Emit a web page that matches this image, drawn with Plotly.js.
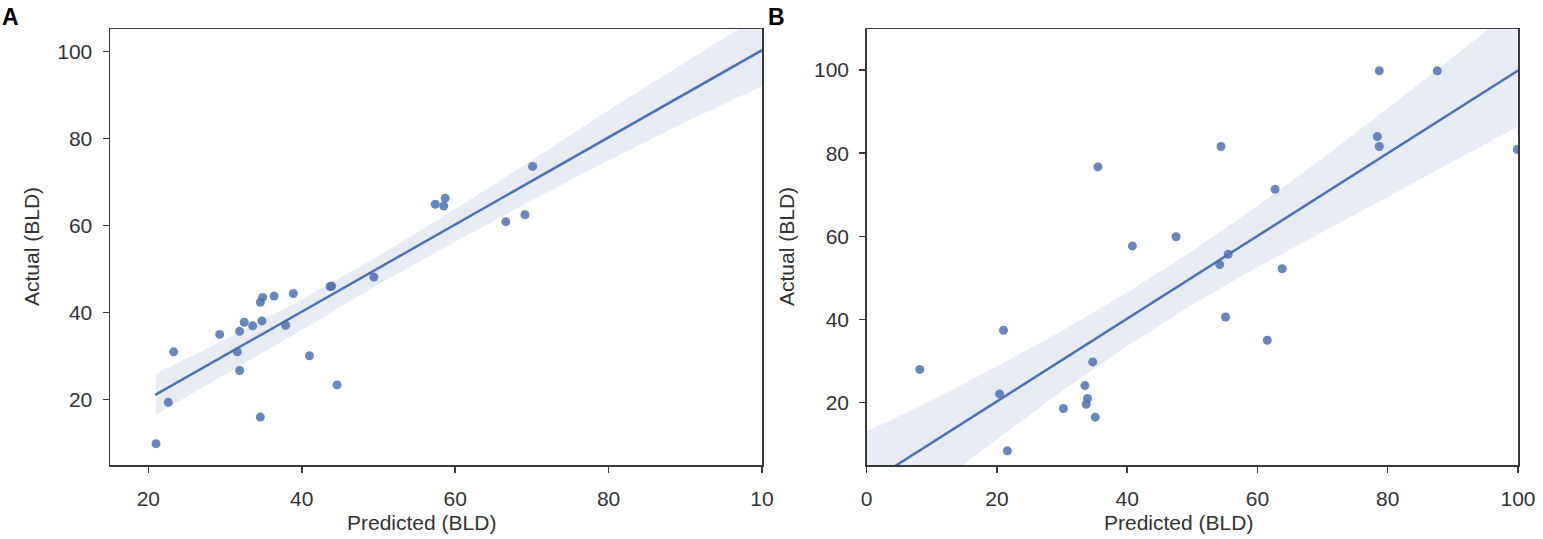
<!DOCTYPE html>
<html>
<head>
<meta charset="utf-8">
<script src="https://cdn.plot.ly/plotly-3.0.1.min.js"></script>
<style>
  html, body { margin: 0; padding: 0; background: #fff; }
  #chart { width: 1543px; height: 539px; }
</style>
</head>
<body>
<div id="chart"></div>
<script>
// panel A: predicted vs actual
var predA = [21.0, 22.6, 23.3, 29.3, 31.6, 31.9, 31.9, 32.5, 33.6, 34.8, 34.6, 34.9, 36.4, 38.9,
             37.9, 34.6, 41.0, 44.6, 43.7, 43.9, 49.4, 57.4, 58.7, 58.5, 70.1, 66.6, 69.1];
var actA  = [9.9, 19.4, 31.0, 35.0, 31.0, 26.7, 35.7, 37.8, 37.0, 38.1, 42.4, 43.5, 43.8, 44.4,
             37.1, 16.0, 30.1, 23.4, 46.0, 46.1, 48.2, 64.9, 66.3, 64.5, 73.6, 60.9, 62.5];
// fitted line and confidence band A
var fitXA = [20.9, 100];
var fitYA = [21.1, 100.3];
var bandXA = [21, 30, 40, 50, 60, 70, 80, 90, 100];
var bandUpA = [26.0, 33.8, 43.0, 53.0, 63.8, 75.0, 86.5, 97.5, 108.5];
var bandLoA = [16.6, 25.8, 36.0, 46.5, 56.3, 65.8, 75.0, 83.8, 92.0];

// panel B
var predB = [8.15, 20.4, 21.0, 21.6, 30.2, 33.5, 33.9, 33.7, 34.7, 35.1, 35.5, 40.8, 47.5,
             54.2, 55.5, 55.1, 61.5, 62.7, 54.4, 78.7, 87.6, 78.4, 78.7, 99.9, 63.8];
var actB  = [28.0, 22.1, 37.4, 8.4, 18.6, 24.1, 21.0, 19.6, 29.8, 16.5, 76.7, 57.7, 59.9,
             53.2, 55.7, 40.6, 35.0, 71.3, 81.6, 99.8, 99.8, 84.0, 81.6, 80.9, 52.2];
var fitXB = [0, 100];
var fitYB = [0.4, 99.9];
var bandXB = [0, 10, 20, 30, 40, 50, 60, 70, 80, 90, 100];
var bandUpB = [13.0, 20.6, 28.7, 37.3, 46.5, 56.5, 67.3, 78.8, 90.8, 103.0, 115.4];
var bandLoB = [-12.5, -0.5, 11.3, 22.8, 33.6, 43.6, 52.6, 61.2, 69.6, 78.0, 86.4];

var blue = "#4C72B0";

function bandTrace(xs, up, lo, xa, ya){
    var x = xs.concat(xs.slice().reverse());
    var y = up.concat(lo.slice().reverse());
    return {
        type: "scatter", mode: "lines", x: x, y: y,
        fill: "toself", fillcolor: "rgba(76,114,176,0.14)",
        line: {width: 0}, hoverinfo: "skip",
        xaxis: xa, yaxis: ya, showlegend: false
    };
}

function pointTrace(x, y, xa, ya){
    return {
        type: "scatter", mode: "markers", x: x, y: y,
        marker: {color: blue, size: 9, opacity: 0.85},
        xaxis: xa, yaxis: ya, showlegend: false
    };
}

function lineTrace(x, y, xa, ya){
    return {
        type: "scatter", mode: "lines", x: x, y: y,
        line: {color: blue, width: 2.5},
        xaxis: xa, yaxis: ya, showlegend: false
    };
}

var data = [
    bandTrace(bandXA, bandUpA, bandLoA, "x", "y"),
    pointTrace(predA, actA, "x", "y"),
    lineTrace(fitXA, fitYA, "x", "y"),
    bandTrace(bandXB, bandUpB, bandLoB, "x2", "y2"),
    pointTrace(predB, actB, "x2", "y2"),
    lineTrace(fitXB, fitYB, "x2", "y2")
];

var axisBase = {
    showgrid: false, zeroline: false,
    showline: true, mirror: true, linecolor: "#3a3a3a", linewidth: 1.5,
    ticks: "outside", ticklen: 6, tickwidth: 1.5, tickcolor: "#3a3a3a",
    tickfont: {family: "Liberation Sans, Arial, sans-serif", size: 21, color: "#333"},
    automargin: false
};

function ax(extra){
    return Object.assign({}, axisBase, extra);
}

var plotBottom = 1 - 465 / 539;
var plotTop = 1 - 29.3 / 539;
var titleFont = {family: "Liberation Sans, Arial, sans-serif", size: 21, color: "#333"};
var panelFont = {family: "Liberation Sans, Arial, sans-serif", size: 23, color: "#000"};

var layout = {
    width: 1543, height: 539,
    margin: {l: 0, r: 0, t: 0, b: 0},
    paper_bgcolor: "#fff", plot_bgcolor: "#fff",
    showlegend: false,
    xaxis: ax({domain: [110 / 1543, 762 / 1543], range: [15, 100],
               tickvals: [20, 40, 60, 80, 100], ticktext: ["20", "40", "60", "80", "10"],
               ticklabelstandoff: 8, anchor: "y"}),
    yaxis: ax({domain: [plotBottom, plotTop], range: [5, 105.1],
               tickvals: [20, 40, 60, 80, 100], ticklabelstandoff: 6, anchor: "x"}),
    xaxis2: ax({domain: [866.7 / 1543, 1518 / 1543], range: [0, 100],
                tickvals: [0, 20, 40, 60, 80, 100], ticklabelstandoff: 8, anchor: "y2"}),
    yaxis2: ax({domain: [plotBottom, plotTop], range: [5, 109.8],
                tickvals: [20, 40, 60, 80, 100], ticklabelstandoff: 6, anchor: "x2"}),
    annotations: [
        {text: "Predicted (BLD)", x: 421 / 1543, y: 1 - 522 / 539, xref: "paper", yref: "paper",
         xanchor: "center", yanchor: "middle", showarrow: false, font: titleFont},
        {text: "Predicted (BLD)", x: 1178 / 1543, y: 1 - 522 / 539, xref: "paper", yref: "paper",
         xanchor: "center", yanchor: "middle", showarrow: false, font: titleFont},
        {text: "Actual (BLD)", x: 31 / 1543, y: 1 - 247 / 539, xref: "paper", yref: "paper",
         xanchor: "center", yanchor: "middle", textangle: -90, showarrow: false, font: titleFont},
        {text: "Actual (BLD)", x: 786 / 1543, y: 1 - 247 / 539, xref: "paper", yref: "paper",
         xanchor: "center", yanchor: "middle", textangle: -90, showarrow: false, font: titleFont},
        {text: "<b>A</b>", x: 10 / 1543, y: 1 - 17 / 539, xref: "paper", yref: "paper",
         xanchor: "center", yanchor: "middle", showarrow: false, font: panelFont},
        {text: "<b>B</b>", x: 777 / 1543, y: 1 - 17 / 539, xref: "paper", yref: "paper",
         xanchor: "center", yanchor: "middle", showarrow: false, font: panelFont}
    ]
};

Plotly.newPlot("chart", data, layout, {staticPlot: true});
</script>
</body>
</html>
